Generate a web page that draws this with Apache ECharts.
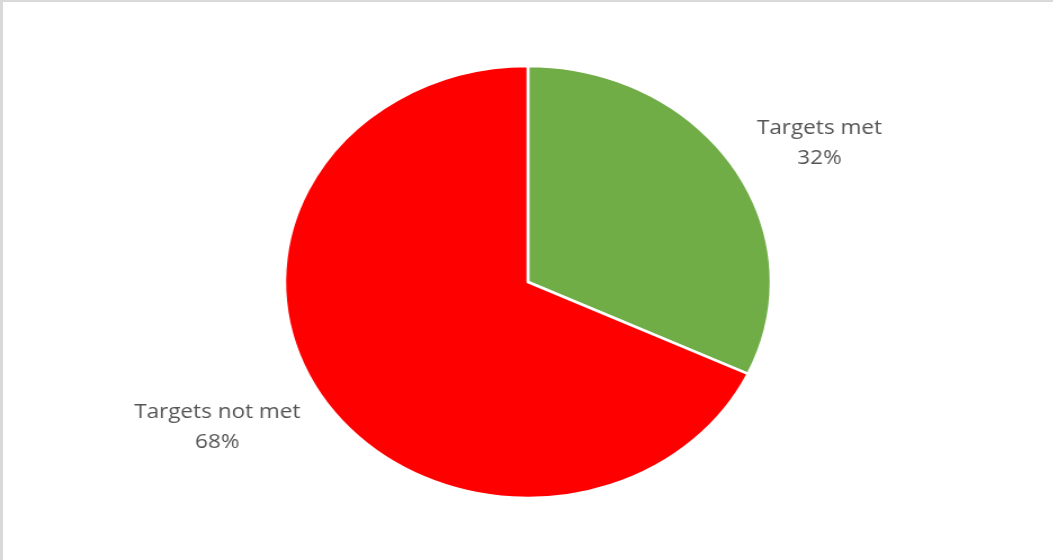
<!DOCTYPE html>
<html>
<head>
<meta charset="utf-8">
<script src="https://cdn.jsdelivr.net/npm/echarts@6/dist/echarts.min.js"></script>
<style>
  html, body { margin: 0; padding: 0; background: #ffffff; overflow: hidden; }
  #frame {
    position: absolute; left: 0; top: 0; width: 1053px; height: 560px;
    box-sizing: border-box; border-left: 3px solid #d9d9d9; border-top: 2px solid #d9d9d9;
    overflow: hidden;
  }
  /* the chart is drawn in a narrower box and stretched horizontally */
  #chart {
    position: absolute; left: -3px; top: -2px; width: 935.5px; height: 560px;
    transform: scaleX(1.1256); transform-origin: 0 0;
  }
</style>
</head>
<body>
<div id="frame"><div id="chart"></div></div>
<script>
const categories = ['Targets met', 'Targets not met'];
const values = [32, 68];
const colors = ['#70ad47', '#ff0000'];

// label anchor points (fraction of chart width, pixel y) for each slice
const labelSpots = [[0.7778, 143], [0.2062, 427]];

const chart = echarts.init(document.getElementById('chart'), null, { renderer: 'canvas' });

chart.setOption({
  animation: false,
  series: [{
    type: 'pie',
    center: [469, 282],
    radius: 216,
    startAngle: 90,
    clockwise: true,
    data: categories.map((name, i) => ({
      name, value: values[i], itemStyle: { color: colors[i] }
    })),
    itemStyle: { borderColor: '#ffffff', borderWidth: 2.5 },
    label: {
      show: true,
      position: 'outside',
      formatter: p => p.name + '\n' + p.value + '%',
      fontFamily: '"Open Sans", sans-serif',
      fontSize: 20,
      lineHeight: 30,
      color: '#555555',
      align: 'center'
    },
    labelLine: { show: false },
    labelLayout: p => {
      const spot = labelSpots[p.dataIndex];
      const w = chart.getWidth();
      return {
        x: spot[0] * w,
        y: spot[1],
        align: 'center',
        verticalAlign: 'middle'
      };
    },
    emphasis: { disabled: true }
  }]
});
</script>
</body>
</html>
